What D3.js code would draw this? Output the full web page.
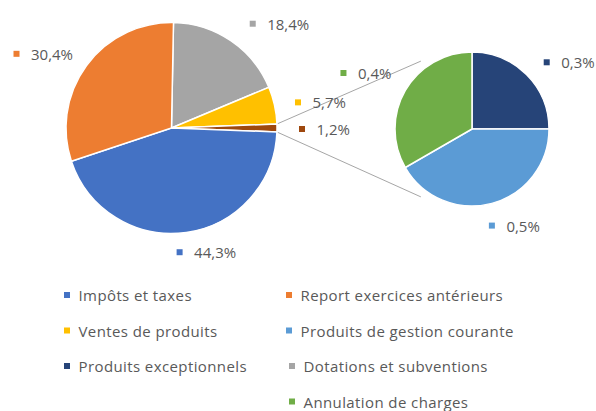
<!DOCTYPE html>
<html>
<head>
<meta charset="utf-8">
<script src="https://cdn.jsdelivr.net/npm/d3@7"></script>
<style>
  body { margin: 0; background: #fff; }
  text { font-family: 'Open Sans', sans-serif; font-size: 15px; fill: #595959; }
  #legend text { letter-spacing: 0.4px; }
</style>
</head>
<body>
<script>
const w = 596;
const h = 411;

// main pie, clockwise (the "Autres" slice is split in the second pie)
const mainNames = ['Dotations et subventions', 'Ventes de produits', 'Autres', 'Impôts et taxes', 'Report exercices antérieurs'];
const mainValues = [18.4, 5.7, 1.2, 44.3, 30.4];
const mainLabels = ['18,4%', '5,7%', '1,2%', '44,3%', '30,4%'];
const mainColors = ['#a5a5a5', '#ffc000', '#9e480e', '#4472c4', '#ed7d31'];

// second pie, clockwise from 12 o'clock
const subNames = ['Produits exceptionnels', 'Produits de gestion courante', 'Annulation de charges'];
const subValues = [0.3, 0.5, 0.4];
const subLabels = ['0,3%', '0,5%', '0,4%'];
const subColors = ['#264478', '#5b9bd5', '#70ad47'];

const legendNames = [
  'Impôts et taxes', 'Report exercices antérieurs',
  'Ventes de produits', 'Produits de gestion courante',
  'Produits exceptionnels', 'Dotations et subventions',
  'Annulation de charges'
];
const legendColors = ['#4472c4', '#ed7d31', '#ffc000', '#5b9bd5', '#264478', '#a5a5a5', '#70ad47'];
// [row, col] in the legend grid
const legendCells = [[0, 0], [0, 1], [1, 0], [1, 1], [2, 0], [2, 1], [3, 1]];

// small label nudges (px), like Excel's best-fit placement
const mainNudge = [[9, 2], [1, 2], [2, 1], [-10, -3], [5, 2]];
const subNudge = [[4, 4], [-6, 0], [6, -6]];

const svg = d3.select('body').append('svg').attr('width', w).attr('height', h);

const mainC = { x: 171.5, y: 128, r: 105.5 };
const subC = { x: 472, y: 129, r: 77 };

const polar = (c, a, r) => [c.x + r * Math.sin(a), c.y - r * Math.cos(a)];

// rotate main pie so the split slice faces the second pie
const total = d3.sum(mainValues);
const before = d3.sum(mainValues.slice(0, 2)) + mainValues[2] / 2;
const rot = Math.PI / 2 - (before / total) * 2 * Math.PI;

const mainArcs = d3.pie().sort(null).startAngle(rot).endAngle(rot + 2 * Math.PI)(mainValues);
const subArcs = d3.pie().sort(null).startAngle(0).endAngle(2 * Math.PI)(subValues);

// connector lines from the split slice to the second pie
const other = mainArcs[2];
const linkAngles = [(323 * Math.PI) / 180, (217 * Math.PI) / 180];
[other.startAngle, other.endAngle].forEach((a, i) => {
  const p1 = polar(mainC, a, mainC.r);
  const p2 = polar(subC, linkAngles[i], subC.r + 8);
  svg
    .append('line')
    .attr('x1', p1[0])
    .attr('y1', p1[1])
    .attr('x2', p2[0])
    .attr('y2', p2[1])
    .attr('stroke', '#a6a6a6')
    .attr('stroke-width', 1);
});

const drawPie = (c, arcs, colors, labels, nudge) => {
  const g = svg.append('g').attr('transform', `translate(${c.x},${c.y})`);
  const arc = d3.arc().innerRadius(0).outerRadius(c.r);
  g.selectAll('path')
    .data(arcs)
    .enter()
    .append('path')
    .attr('d', arc)
    .attr('fill', (d, i) => colors[i])
    .attr('stroke', '#fff')
    .attr('stroke-width', 1.5);

  // data labels outside each slice
  arcs.forEach((d, i) => {
    let mid = (d.startAngle + d.endAngle) / 2;
    mid = ((mid % (2 * Math.PI)) + 2 * Math.PI) % (2 * Math.PI);
    const p = polar(c, mid, c.r + 23);
    const px = p[0] + nudge[i][0];
    const py = p[1] + nudge[i][1];
    const lab = svg.append('g');
    const t = lab
      .append('text')
      .attr('dominant-baseline', 'central')
      .attr('y', py)
      .text(labels[i]);
    const tw = t.node().getComputedTextLength();
    // marker centre
    const mx = mid < Math.PI ? px : px - tw - 14.5;
    t.attr('x', mx + 14.5);
    lab
      .append('rect')
      .attr('x', mx - 3)
      .attr('y', py - 3)
      .attr('width', 6)
      .attr('height', 6)
      .attr('fill', colors[i]);
  });
};

drawPie(mainC, mainArcs, mainColors, mainLabels, mainNudge);
drawPie(subC, subArcs, subColors, subLabels, subNudge);

// legend
const legend = svg.append('g').attr('id', 'legend');
legendNames.forEach((name, i) => {
  const [row, col] = legendCells[i];
  const x = col === 0 ? 67 : row < 2 ? 289 : 292;
  const y = 295 + row * 35.5;
  legend
    .append('rect')
    .attr('x', x - 3)
    .attr('y', y - 3)
    .attr('width', 6)
    .attr('height', 6)
    .attr('fill', legendColors[i]);
  legend
    .append('text')
    .attr('x', x + 11.5)
    .attr('y', y)
    .attr('dominant-baseline', 'central')
    .text(name);
});
</script>
</body>
</html>
